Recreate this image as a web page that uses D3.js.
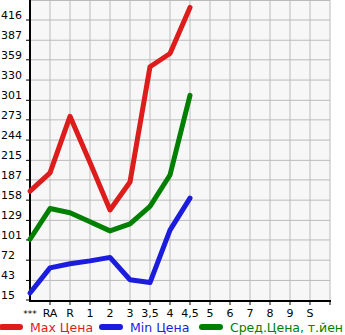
<!DOCTYPE html>
<html>
<head>
<meta charset="utf-8">
<script src="https://cdn.jsdelivr.net/npm/d3@7"></script>
<style>
  body { margin: 0; background: #fff; }
  svg { display: block; font-family: "DejaVu Sans", sans-serif; }
</style>
</head>
<body>
<div id="chart"></div>
<script>
var categories = ["***", "RA", "R", "1", "2", "3", "3,5", "4", "4,5", "5", "6", "7", "8", "9", "S"];
var yTicks = [15, 43, 72, 101, 129, 158, 187, 215, 244, 273, 301, 330, 359, 387, 416];
var maxPrice = [171, 197, 278, 212, 144, 184, 349, 368, 434];
var minPrice = [25, 61, 67, 71, 76, 44, 40, 115, 161];
var avgPrice = [102, 146, 140, 127, 114, 124, 149, 194, 308];

var width = 345, height = 335,
  plotLeft = 30, plotRight = 330, plotTop = 0, plotBottom = 300;

var svg = d3.select("#chart").append("svg")
  .attr("width", width)
  .attr("height", height);

// categories sit on the grid lines, one every 20px
var x = d3.scalePoint()
  .domain(categories.concat([""]))
  .range([plotLeft, plotRight]);

var y = d3.scaleLinear()
  .domain([15, 15 + (416 - 15) * 300 / 280])
  .range([plotBottom, plotTop]);

svg.append("rect")
  .attr("x", plotLeft).attr("y", plotTop)
  .attr("width", plotRight - plotLeft).attr("height", plotBottom - plotTop)
  .style("fill", "#f7f7f7");

// grid
svg.selectAll(".vgrid")
  .data(categories.slice(1).concat([""]))
  .enter().append("line")
    .attr("x1", function(d) { return x(d); })
    .attr("x2", function(d) { return x(d); })
    .attr("y1", plotTop).attr("y2", plotBottom)
    .style("stroke", "#bbbbbb").style("stroke-width", 1);

svg.selectAll(".hgrid")
  .data(yTicks.slice(1).concat([y.invert(plotTop + 0.5)]))
  .enter().append("line")
    .attr("x1", plotLeft).attr("x2", plotRight)
    .attr("y1", function(d) { return y(d); })
    .attr("y2", function(d) { return y(d); })
    .style("stroke", "#bbbbbb").style("stroke-width", 1);

// y axis
svg.append("line")
  .attr("x1", plotLeft).attr("x2", plotLeft)
  .attr("y1", plotTop).attr("y2", plotBottom + 1)
  .style("stroke", "#000").style("stroke-width", 2);
svg.selectAll(".ytick")
  .data(yTicks)
  .enter().append("line")
    .attr("x1", plotLeft - 4).attr("x2", plotLeft)
    .attr("y1", function(d) { return y(d); })
    .attr("y2", function(d) { return y(d); })
    .style("stroke", "#000").style("stroke-width", 1);
svg.selectAll(".ylabel")
  .data(yTicks)
  .enter().append("text")
    .text(function(d) { return d; })
    .attr("x", 1)
    .attr("y", function(d) { return y(d) - 1; })
    .style("font-size", "11px");

// x axis
svg.append("line")
  .attr("x1", plotLeft - 1).attr("x2", plotRight + 1)
  .attr("y1", plotBottom + 1).attr("y2", plotBottom + 1)
  .style("stroke", "#000").style("stroke-width", 2);
svg.selectAll(".xtick")
  .data(categories.slice(1).concat([""]))
  .enter().append("line")
    .attr("x1", function(d) { return x(d); })
    .attr("x2", function(d) { return x(d); })
    .attr("y1", plotBottom + 1).attr("y2", plotBottom + 5)
    .style("stroke", "#000").style("stroke-width", 1);
svg.selectAll(".xlabel")
  .data(categories)
  .enter().append("text")
    .text(function(d) { return d; })
    .attr("x", function(d) { return x(d); })
    .attr("y", 317)
    .style("text-anchor", "middle")
    .style("font-size", function(d) { return d == "***" ? "9px" : "11px"; });

// series
var line = d3.line()
  .x(function(d, i) { return x(categories[i]); })
  .y(function(d) { return y(d); });

var series = [
  { name: "Max Цена", values: maxPrice, color: "#dd1c1c" },
  { name: "Min Цена", values: minPrice, color: "#1c1cdd" },
  { name: "Сред.Цена, т.йен", values: avgPrice, color: "#008000" }
];

series.forEach(function(s) {
  svg.append("path")
    .datum(s.values)
    .attr("d", line)
    .style("fill", "none")
    .style("stroke", s.color)
    .style("stroke-width", 5)
    .style("stroke-linejoin", "round")
    .style("stroke-linecap", "round");
});

// legend
var legendX = [0, 100, 200];
series.forEach(function(s, i) {
  svg.append("line")
    .attr("x1", legendX[i] + 2).attr("x2", legendX[i] + 20)
    .attr("y1", 327).attr("y2", 327)
    .style("stroke", s.color)
    .style("stroke-width", 6)
    .style("stroke-linecap", "round");
  svg.append("text")
    .text(s.name)
    .attr("x", legendX[i] + 30)
    .attr("y", 332)
    .style("fill", s.color)
    .style("font-size", "12.5px")
    .attr("textLength", i == 2 ? 113 : null);
});
</script>
</body>
</html>
